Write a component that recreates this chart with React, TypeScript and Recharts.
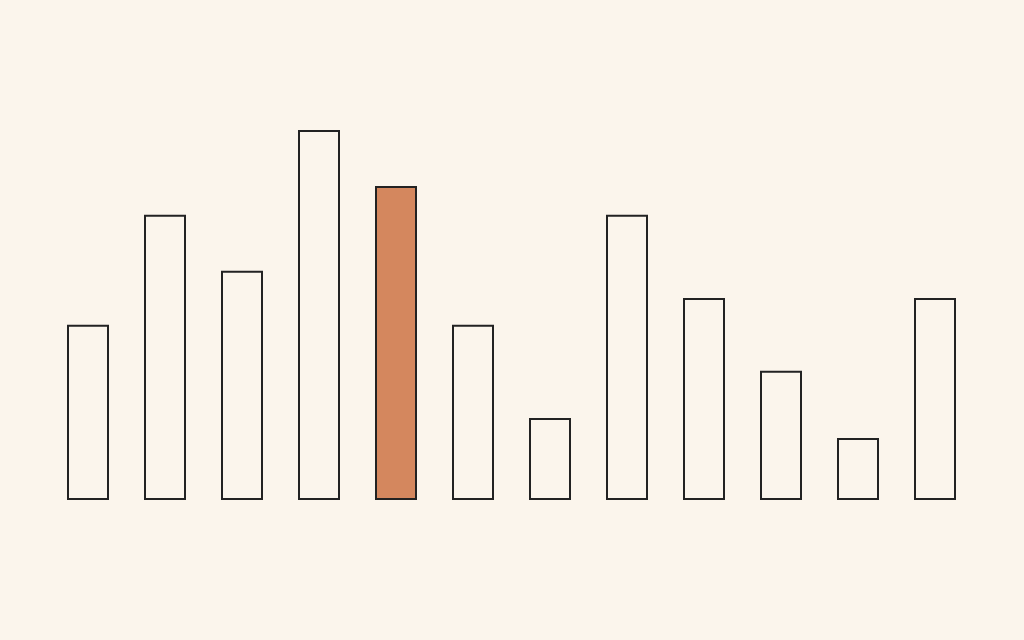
import { BarChart, Bar, XAxis, YAxis, Cell } from 'recharts';

const categories = ['1', '2', '3', '4', '5', '6', '7', '8', '9', '10', '11', '12'];
const values = [43.3, 70.8, 56.8, 92, 78, 43.3, 20, 70.8, 50, 31.8, 15, 50];
const highlightIndex = 4;

const BG = '#fbf5ec';
const STROKE = '#222222';
const HIGHLIGHT = '#d4875e';

const data = categories.map((name, i) => ({ name, value: values[i] }));

export default function App() {
  return (
    <div style={{ position: 'fixed', left: 0, top: 0, width: 1024, height: 640, background: BG }}>
      <BarChart
        width={1024}
        height={640}
        data={data}
        margin={{ top: 99, right: 51, bottom: 141, left: 49 }}
        barCategoryGap={0}
      >
        <XAxis dataKey="name" hide />
        <YAxis hide domain={[0, 100]} />
        <Bar dataKey="value" barSize={40} stroke={STROKE} strokeWidth={2} isAnimationActive={false}>
          {data.map((entry, i) => (
            <Cell key={entry.name} fill={i === highlightIndex ? HIGHLIGHT : BG} />
          ))}
        </Bar>
      </BarChart>
    </div>
  );
}
